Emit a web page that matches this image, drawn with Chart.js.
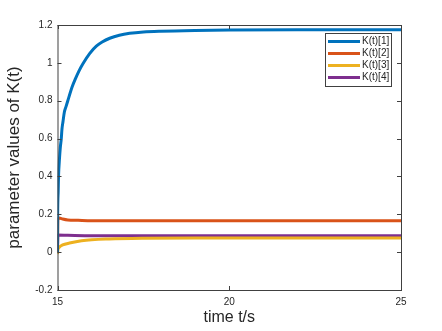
<!DOCTYPE html>
<html>
<head>
<meta charset="utf-8">
<script src="https://cdn.jsdelivr.net/npm/chart.js@4"></script>
<style>
  html, body { margin: 0; padding: 0; background: #fff; }
  #wrap { width: 442px; height: 331px; position: relative; }
</style>
</head>
<body>
<div id="wrap"><canvas id="grafico"></canvas></div>
<script>
// ---------- data ----------
const seriesLabels = ['K(t)[1]', 'K(t)[2]', 'K(t)[3]', 'K(t)[4]'];
const seriesColors = ['#0072BD', '#D95319', '#EDB120', '#7E2F8E'];

const k1Time = [15, 15.005, 15.02, 15.03, 15.06, 15.08, 15.11, 15.13, 15.16, 15.2, 15.25, 15.3, 15.43, 15.52, 15.62, 15.74, 15.94, 16.13, 16.3, 16.52, 16.8, 17.1, 17.5, 18, 19, 20, 22, 25];
const k1Vals = [0, 0.2, 0.32, 0.4, 0.5, 0.55, 0.6, 0.65, 0.69, 0.74, 0.77, 0.8, 0.875, 0.915, 0.955, 0.995, 1.05, 1.088, 1.11, 1.13, 1.146, 1.156, 1.163, 1.167, 1.171, 1.173, 1.175, 1.175];

const k2Time = [15, 15.01, 15.05, 15.15, 15.3, 15.6, 16, 18, 25];
const k2Vals = [0, 0.17, 0.18, 0.175, 0.17, 0.168, 0.166, 0.166, 0.166];

const k3Time = [15, 15.01, 15.05, 15.15, 15.35, 15.7, 16.5, 17.5, 19, 25];
const k3Vals = [-0.01, 0.01, 0.025, 0.038, 0.048, 0.06, 0.07, 0.074, 0.075, 0.075];

const k4Time = [15, 15.01, 15.3, 16, 25];
const k4Vals = [0, 0.09, 0.089, 0.087, 0.086];

const xTicks = [15, 20, 25];
const yTicks = [-0.2, 0, 0.2, 0.4, 0.6, 0.8, 1, 1.2];

const axisColor = '#404040';
const fontFam = '"Liberation Sans", Arial, sans-serif';

function pares(ts, vs) {
  return ts.map((t, i) => ({ x: t, y: vs[i] }));
}

const allTimes = [k1Time, k2Time, k3Time, k4Time];
const allVals = [k1Vals, k2Vals, k3Vals, k4Vals];

// box + inward ticks + legend, drawn like the matlab figure
const caixaPlugin = {
  id: 'caixa',
  afterDraw(chart) {
    const { ctx, chartArea: a, scales } = chart;
    ctx.save();
    ctx.strokeStyle = axisColor;
    ctx.lineWidth = 1;
    ctx.strokeRect(a.left + 0.5, a.top + 0.5, a.right - a.left, a.bottom - a.top);
    ctx.beginPath();
    xTicks.forEach(v => {
      const px = Math.round(scales.x.getPixelForValue(v)) + 0.5;
      ctx.moveTo(px, a.bottom); ctx.lineTo(px, a.bottom - 4);
      ctx.moveTo(px, a.top); ctx.lineTo(px, a.top + 4);
    });
    yTicks.forEach(v => {
      const py = Math.round(scales.y.getPixelForValue(v)) + 0.5;
      ctx.moveTo(a.left, py); ctx.lineTo(a.left + 4, py);
      ctx.moveTo(a.right, py); ctx.lineTo(a.right - 4, py);
    });
    ctx.stroke();

    // legend box
    const lx = 325, ly = 33, lw = 66, lh = 53;
    ctx.fillStyle = '#fff';
    ctx.fillRect(lx, ly, lw, lh);
    ctx.strokeStyle = axisColor;
    ctx.strokeRect(lx + 0.5, ly + 0.5, lw, lh);
    ctx.font = '10px ' + fontFam;
    ctx.textBaseline = 'middle';
    seriesLabels.forEach((lab, i) => {
      const y = ly + 8.5 + i * 12;
      ctx.strokeStyle = seriesColors[i];
      ctx.lineWidth = 3;
      ctx.beginPath();
      ctx.moveTo(lx + 3, y); ctx.lineTo(lx + 35, y);
      ctx.stroke();
      ctx.fillStyle = '#262626';
      ctx.fillText(lab, lx + 37, y);
    });
    ctx.restore();
  }
};

new Chart(document.getElementById('grafico'), {
  type: 'line',
  data: {
    datasets: seriesLabels.map((lab, i) => ({
      label: lab,
      data: pares(allTimes[i], allVals[i]),
      borderColor: seriesColors[i],
      backgroundColor: seriesColors[i],
      borderWidth: 3,
      pointRadius: 0,
      cubicInterpolationMode: 'monotone',
      order: i
    }))
  },
  options: {
    responsive: true,
    maintainAspectRatio: false,
    animation: false,
    layout: { padding: { top: 25, right: 41, left: 0, bottom: 0 } },
    plugins: { legend: { display: false }, tooltip: { enabled: false } },
    scales: {
      x: {
        type: 'linear',
        min: 15, max: 25,
        afterBuildTicks: s => { s.ticks = xTicks.map(v => ({ value: v })); },
        afterFit: s => { s.height = 41; },
        grid: { display: false, drawTicks: false },
        border: { display: false },
        ticks: { color: '#262626', font: { size: 10, family: fontFam }, padding: 6, maxRotation: 0 },
        title: { display: true, text: 'time t/s', color: '#262626', font: { size: 16, family: fontFam }, padding: { top: 2 } }
      },
      y: {
        min: -0.2, max: 1.2,
        afterBuildTicks: s => { s.ticks = yTicks.map(v => ({ value: v })); },
        afterFit: s => { s.width = 57.5; },
        grid: { display: false, drawTicks: false },
        border: { display: false },
        ticks: { color: '#262626', font: { size: 10, family: fontFam }, padding: 5, callback: v => String(Math.round(v * 10) / 10) },
        title: { display: true, text: 'parameter values of K(t)', color: '#262626', font: { size: 17, family: fontFam }, padding: { bottom: 3 } }
      }
    }
  },
  plugins: [caixaPlugin]
});
</script>
</body>
</html>
